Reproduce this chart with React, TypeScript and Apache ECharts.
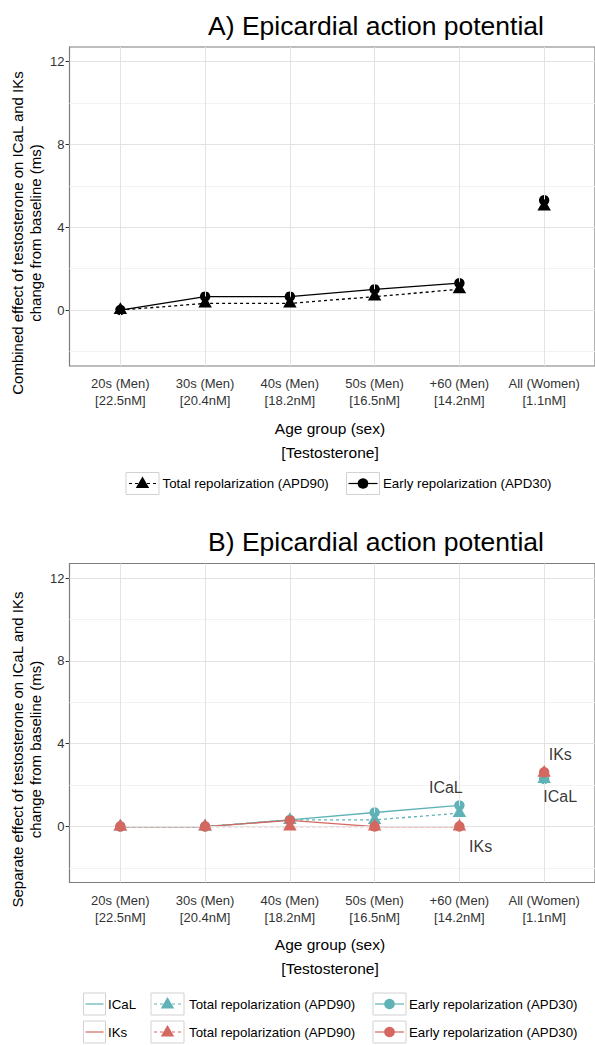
import React, { useEffect, useRef } from "react";
import * as echarts from "echarts";

// ---------- data ----------
const categories = ["20s (Men)", "30s (Men)", "40s (Men)", "50s (Men)", "+60 (Men)", "All (Women)"];
const testosterone = ["[22.5nM]", "[20.4nM]", "[18.2nM]", "[16.5nM]", "[14.2nM]", "[1.1nM]"];
const xPositions = [1, 2, 3, 4, 5, 6];
const yTicks = [0, 4, 8, 12];
const yMinor = [-2, 2, 6, 10];

// Panel A: combined effect
const combinedAPD90 = [0, 0.32, 0.32, 0.65, 1.0, 5.0];
const combinedAPD30 = [0, 0.65, 0.65, 1.0, 1.3, 5.3];

// Panel B: separate effects
const icalAPD90 = [0, 0, 0.32, 0.32, 0.65, 2.3];
const icalAPD30 = [0, 0, 0.32, 0.68, 1.02, 2.3];
const iksAPD90 = [0, 0, 0, 0, 0, 2.6];
const iksAPD30 = [0, 0, 0.3, 0, 0, 2.62];

// Panel B text annotations
const labelTexts = ["ICaL", "IKs", "IKs", "ICaL"];
const labelX = [4.84, 5.25, 6.19, 6.19];
const labelY = [1.87, -0.98, 3.46, 1.43];

const FONT = "'Liberation Sans', Arial, Helvetica, sans-serif";
const TEAL = "#5fb2b6";
const RED = "#d4675f";
const BLACK = "#000000";

const pairs = (vals: number[], from = 0, to = vals.length) =>
  vals.slice(from, to).map((v, i) => [xPositions[from + i], v]);

function buildAxes(gridIndex: number) {
  const x = {
    type: "value",
    gridIndex,
    min: 0.4,
    max: 6.6,
    axisLine: { show: false },
    axisTick: { show: true, customValues: xPositions, length: 4, lineStyle: { color: "#333", width: 1 } },
    axisLabel: {
      show: true,
      customValues: xPositions,
      formatter: (v: number) => {
        const i = Math.round(v) - 1;
        return categories[i] + "\n" + testosterone[i];
      },
      fontSize: 13,
      lineHeight: 17,
      color: "#333",
      margin: 9,
      fontFamily: FONT,
    },
    splitLine: { show: false },
  };
  const y = {
    type: "value",
    gridIndex,
    min: -2.7,
    max: 12.7,
    axisLine: { show: false },
    axisTick: { show: true, customValues: yTicks, length: 4, lineStyle: { color: "#333", width: 1 } },
    axisLabel: { show: true, customValues: yTicks, fontSize: 13, color: "#333", margin: 5, fontFamily: FONT },
    splitLine: { show: false },
  };
  return { x, y };
}

function gridSeries(idx: number) {
  return [
    {
      type: "line",
      xAxisIndex: idx,
      yAxisIndex: idx,
      data: [],
      silent: true,
      z: 1,
      markLine: {
        silent: true,
        symbol: "none",
        label: { show: false },
        animation: false,
        lineStyle: { color: "#f2f2f2", width: 1, type: "solid" },
        data: yMinor.map((v) => ({ yAxis: v })),
      },
    },
    {
      type: "line",
      xAxisIndex: idx,
      yAxisIndex: idx,
      data: [],
      silent: true,
      z: 1,
      markLine: {
        silent: true,
        symbol: "none",
        label: { show: false },
        animation: false,
        lineStyle: { color: "#e3e3e3", width: 1, type: "solid" },
        data: [...yTicks.map((v) => ({ yAxis: v })), ...xPositions.map((v) => ({ xAxis: v }))],
      },
    },
  ];
}

function lineSeries(idx: number, vals: number[], color: string, dashed: boolean) {
  return {
    type: "line",
    xAxisIndex: idx,
    yAxisIndex: idx,
    data: pairs(vals, 0, 5),
    showSymbol: false,
    symbol: "none",
    silent: true,
    z: 3,
    lineStyle: { color, width: 1.3, type: dashed ? [3, 3] : "solid" },
  };
}

function pointSeries(idx: number, vals: number[], color: string, tri: boolean, z: number) {
  return {
    type: "scatter",
    xAxisIndex: idx,
    yAxisIndex: idx,
    data: pairs(vals),
    symbol: tri ? "triangle" : "circle",
    symbolSize: tri ? [13.5, 11.7] : 10.4,
    symbolOffset: tri ? [0, -1.9] : [0, 0],
    itemStyle: { color, opacity: 1 },
    silent: true,
    z,
  };
}

function legendKey(x: number, yc: number, w: number, color: string, kind: "line" | "tri" | "circle") {
  const els: any[] = [
    {
      type: "rect",
      shape: { x, y: yc - 11, width: w, height: 22 },
      style: { fill: "#fff", stroke: "#d2d2d2", lineWidth: 1 },
    },
  ];
  const cx = x + w / 2;
  if (kind === "line") {
    els.push({ type: "line", shape: { x1: x + 2, y1: yc, x2: x + w - 2, y2: yc }, style: { stroke: color, lineWidth: 1.2 } });
  } else if (kind === "tri") {
    els.push({
      type: "line",
      shape: { x1: x + 3, y1: yc, x2: x + w - 3, y2: yc },
      style: { stroke: color, lineWidth: 1.2, lineDash: [3, 3] },
    });
    els.push({
      type: "polygon",
      shape: { points: [[cx, yc - 7], [cx - 6.7, yc + 4.5], [cx + 6.7, yc + 4.5]] },
      style: { fill: color },
    });
  } else {
    els.push({ type: "line", shape: { x1: x + 2, y1: yc, x2: x + w - 2, y2: yc }, style: { stroke: color, lineWidth: 1.2 } });
    els.push({ type: "circle", shape: { cx, cy: yc, r: 5.3 }, style: { fill: color } });
  }
  return els;
}

function txt(text: string, x: number, y: number, size: number, align = "left", rotation = 0, lineHeight?: number) {
  return {
    type: "text",
    x,
    y,
    rotation,
    style: {
      text,
      fontSize: size,
      fontFamily: FONT,
      fill: "#000",
      align,
      textAlign: align,
      verticalAlign: "middle",
      textVerticalAlign: "middle",
      lineHeight: lineHeight ?? size * 1.2,
    },
  };
}

export default function App() {
  const ref = useRef<HTMLDivElement>(null);
  useEffect(() => {
    document.body.style.margin = "0";
    if (!ref.current) return;
    const chart = echarts.init(ref.current, undefined, { renderer: "svg" });
    const a = buildAxes(0);
    const b = buildAxes(1);
    const OFF = 516.5;
    const LS = 13.3;
    const YN = 15;
    const YC = 233;

    const graphics: any[] = [
      txt("A) Epicardial action potential", 376, 25.5, 26.5, "center"),
      txt("B) Epicardial action potential", 376, 25.5 + OFF, 26.5, "center"),
      txt("Age group (sex)\n[Testosterone]", 330, 440, 15.5, "center", 0, 24),
      txt("Age group (sex)\n[Testosterone]", 330, 440 + OFF, 15.5, "center", 0, 24),
      txt(
        "Combined effect of testosterone on ICaL and IKs\nchange from baseline (ms)",
        26,
        YC,
        YN,
        "center",
        Math.PI / 2,
        18
      ),
      txt(
        "Separate effect of testosterone on ICaL and IKs\nchange from baseline (ms)",
        26,
        YC + OFF,
        YN,
        "center",
        Math.PI / 2,
        18
      ),
      // legend A
      ...legendKey(126, 483.5, 33, BLACK, "tri"),
      txt("Total repolarization (APD90)", 162.5, 483.5, LS),
      ...legendKey(346.5, 483.5, 33, BLACK, "circle"),
      txt("Early repolarization (APD30)", 383, 483.5, LS),
      // legend B
      ...legendKey(83.5, 1004, 22, TEAL, "line"),
      txt("ICaL", 108, 1004, LS),
      ...legendKey(151, 1004, 33, TEAL, "tri"),
      txt("Total repolarization (APD90)", 189, 1004, LS),
      ...legendKey(373, 1004, 33, TEAL, "circle"),
      txt("Early repolarization (APD30)", 409, 1004, LS),
      ...legendKey(83.5, 1032, 22, RED, "line"),
      txt("IKs", 108, 1032, LS),
      ...legendKey(151, 1032, 33, RED, "tri"),
      txt("Total repolarization (APD90)", 189, 1032, LS),
      ...legendKey(373, 1032, 33, RED, "circle"),
      txt("Early repolarization (APD30)", 409, 1032, LS),
    ];

    const option: any = {
      animation: false,
      textStyle: { fontFamily: FONT },
      grid: [
        { left: 69.5, top: 47, width: 529.3, height: 319, show: true, backgroundColor: "#fff", borderColor: "#7c7c7c", borderWidth: 1.2 },
        { left: 69.5, top: 47 + OFF, width: 529.3, height: 319, show: true, backgroundColor: "#fff", borderColor: "#7c7c7c", borderWidth: 1.2 },
      ],
      xAxis: [a.x, b.x],
      yAxis: [a.y, b.y],
      series: [
        ...gridSeries(0),
        ...gridSeries(1),
        // Panel A
        lineSeries(0, combinedAPD30, BLACK, false),
        lineSeries(0, combinedAPD90, BLACK, true),
        pointSeries(0, combinedAPD30, BLACK, false, 4),
        pointSeries(0, combinedAPD90, BLACK, true, 5),
        // Panel B
        lineSeries(1, icalAPD30, TEAL, false),
        lineSeries(1, icalAPD90, TEAL, true),
        lineSeries(1, iksAPD30, RED, false),
        lineSeries(1, iksAPD90, RED, true),
        pointSeries(1, icalAPD30, TEAL, false, 4),
        pointSeries(1, icalAPD90, TEAL, true, 5),
        pointSeries(1, iksAPD30, RED, false, 6),
        pointSeries(1, iksAPD90, RED, true, 7),
        {
          type: "scatter",
          xAxisIndex: 1,
          yAxisIndex: 1,
          symbolSize: 0,
          silent: true,
          z: 8,
          data: labelTexts.map((t, i) => ({ name: t, value: [labelX[i], labelY[i]] })),
          label: {
            show: true,
            position: "inside",
            formatter: (p: any) => p.name,
            fontSize: 16,
            color: "#000",
            fontFamily: FONT,
          },
        },
      ],
      graphic: graphics,
    };
    chart.setOption(option);
    return () => chart.dispose();
  }, []);
  return <div ref={ref} style={{ width: 595, height: 1045 }} />;
}
